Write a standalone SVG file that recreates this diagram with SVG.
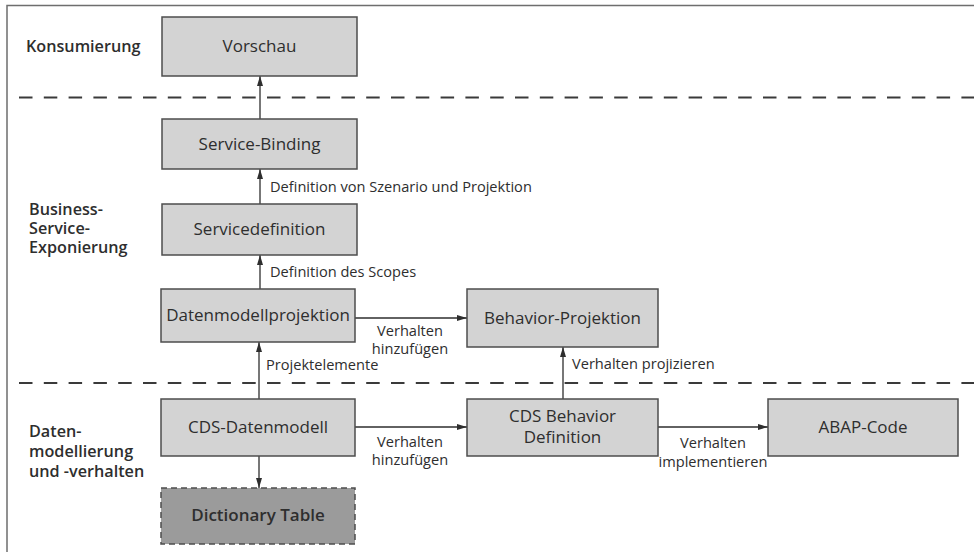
<svg xmlns="http://www.w3.org/2000/svg" width="974" height="552" viewBox="0 0 974 552">
<defs>
<style>
.frame{stroke:#6e6e6e;stroke-width:1.5;fill:none}
.sep{stroke:#3a3a3a;stroke-width:2;stroke-dasharray:13.5 11.3;fill:none}
.box{fill:#d3d3d3;stroke:#4d4d4d;stroke-width:1.5}
.dbox{fill:#9b9b9b;stroke:#4d4d4d;stroke-width:1.5;stroke-dasharray:6 4}
.lbl{font-family:"Open Sans","Noto Sans","DejaVu Sans",sans-serif;font-size:17px;fill:#2e2e2e;text-anchor:middle}
.bold{font-weight:600}
.side{font-family:"Open Sans","Noto Sans","DejaVu Sans",sans-serif;font-size:16.2px;font-weight:600;fill:#2e2e2e}
.cl{font-family:"Open Sans","Noto Sans","DejaVu Sans",sans-serif;font-size:14.6px;fill:#2e2e2e}
.clm{text-anchor:middle}
.conn{stroke:#2e2e2e;stroke-width:1.3;fill:none;marker-end:url(#ah)}
</style>
<marker id="ah" viewBox="0 0 10 10" refX="10" refY="5" markerWidth="10" markerHeight="10" markerUnits="userSpaceOnUse" orient="auto">
<path d="M0,2 L10,5 L0,8 Z" fill="#2e2e2e"/>
</marker>
</defs>

<g id="frame">
<path class="frame" d="M7,552 V5.5 H974"/>
<line class="sep" x1="19" y1="97.5" x2="974" y2="97.5"/>
<line class="sep" x1="19" y1="383" x2="974" y2="383"/>
</g>

<g id="side-labels">
<text class="side" x="26" y="52">Konsumierung</text>
<text class="side" x="29" y="215">Business-</text>
<text class="side" x="29" y="234">Service-</text>
<text class="side" x="29" y="253">Exponierung</text>
<text class="side" x="29" y="437">Daten-</text>
<text class="side" x="29" y="457">modellierung</text>
<text class="side" x="29" y="477">und -verhalten</text>
</g>

<g id="connectors">
<line class="conn" x1="260" y1="119" x2="260" y2="76"/>
<line class="conn" x1="260" y1="204" x2="260" y2="169"/>
<line class="conn" x1="260" y1="289" x2="260" y2="255"/>
<line class="conn" x1="259" y1="399" x2="259" y2="342"/>
<line class="conn" x1="259" y1="456" x2="259" y2="488"/>
<line class="conn" x1="355" y1="318" x2="467" y2="318"/>
<line class="conn" x1="355" y1="427" x2="467" y2="427"/>
<line class="conn" x1="563" y1="399" x2="563" y2="347"/>
<line class="conn" x1="658" y1="427" x2="768" y2="427"/>
<text class="cl" x="270" y="192">Definition von Szenario und Projektion</text>
<text class="cl" x="270" y="277">Definition des Scopes</text>
<text class="cl" x="266" y="370">Projektelemente</text>
<text class="cl clm" x="410" y="336">Verhalten</text>
<text class="cl clm" x="410" y="354">hinzufügen</text>
<text class="cl clm" x="410" y="447">Verhalten</text>
<text class="cl clm" x="410" y="465">hinzufügen</text>
<text class="cl" x="572" y="369">Verhalten projizieren</text>
<text class="cl clm" x="713" y="448">Verhalten</text>
<text class="cl clm" x="713" y="467">implementieren</text>
</g>

<g id="vorschau">
<rect class="box" x="162" y="17" width="195" height="59"/>
<text class="lbl" x="259.5" y="52">Vorschau</text>
</g>
<g id="service-binding">
<rect class="box" x="162" y="119" width="195" height="50"/>
<text class="lbl" x="259.5" y="150">Service-Binding</text>
</g>
<g id="servicedefinition">
<rect class="box" x="162" y="204" width="195" height="51"/>
<text class="lbl" x="259.5" y="235">Servicedefinition</text>
</g>
<g id="datenmodellprojektion">
<rect class="box" x="161" y="289" width="194" height="53"/>
<text class="lbl" x="258" y="320.5">Datenmodellprojektion</text>
</g>
<g id="behavior-projektion">
<rect class="box" x="467" y="289" width="191" height="58"/>
<text class="lbl" x="562.5" y="323.5">Behavior-Projektion</text>
</g>
<g id="cds-datenmodell">
<rect class="box" x="161" y="399" width="194" height="57"/>
<text class="lbl" x="258" y="432.5">CDS-Datenmodell</text>
</g>
<g id="cds-behavior-definition">
<rect class="box" x="467" y="399" width="191" height="57"/>
<text class="lbl" x="562.5" y="422">CDS Behavior</text>
<text class="lbl" x="562.5" y="443">Definition</text>
</g>
<g id="abap-code">
<rect class="box" x="768" y="399" width="190" height="57"/>
<text class="lbl" x="863" y="432.5">ABAP-Code</text>
</g>
<g id="dictionary-table">
<rect class="dbox" x="161" y="488" width="194" height="56"/>
<text class="lbl bold" x="258" y="521">Dictionary Table</text>
</g>
</svg>
